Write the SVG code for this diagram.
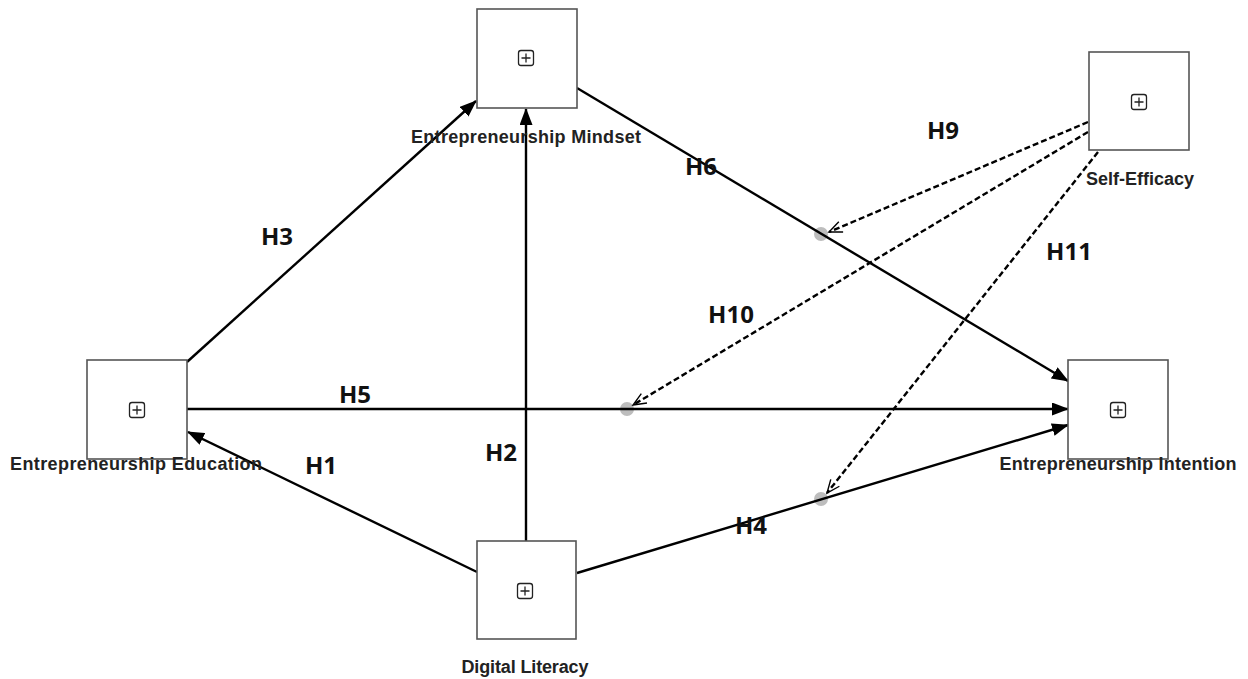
<svg xmlns="http://www.w3.org/2000/svg" width="1248" height="679" viewBox="0 0 1248 679">
<defs>
<style>
.box{fill:#fff;stroke:#555;stroke-width:1.6}
.icon{fill:none;stroke:#222;stroke-width:1.3}
.lbl{font-family:"Liberation Sans",Arial,sans-serif;font-weight:bold;font-size:18px;fill:#222;text-anchor:middle}
.hyp{font-family:"Open Sans","Liberation Sans",sans-serif;font-weight:bold;font-size:24px;fill:#111;text-anchor:middle}
.solid{fill:none;stroke:#000;stroke-width:2.4;marker-end:url(#ah)}
.dash{fill:none;stroke:#000;stroke-width:2.4;stroke-dasharray:6,3;marker-end:url(#oh)}
.dot{fill:#bdbdbd}
</style>
<marker id="ah" markerUnits="userSpaceOnUse" markerWidth="17" markerHeight="13" refX="16" refY="6.5" orient="auto" viewBox="0 0 17 13">
<path d="M0,0 L17,6.5 L0,13 Z" fill="#000"/>
</marker>
<marker id="oh" markerUnits="userSpaceOnUse" markerWidth="16" markerHeight="14" refX="14" refY="7" orient="auto" viewBox="0 0 16 14">
<path d="M1,1.5 L14,7 L1,12.5" fill="none" stroke="#000" stroke-width="1.4"/>
</marker>
<g id="plus">
<rect x="-7.5" y="-7.5" width="15" height="15" rx="2.5" class="icon"/>
<path d="M-4.5,0 H4.5 M0,-4.5 V4.5" class="icon"/>
</g>
</defs>
<rect width="1248" height="679" fill="#fff"/>

<g id="connectors">
<circle class="dot" cx="821" cy="234" r="7"/>
<circle class="dot" cx="627" cy="409" r="7"/>
<circle class="dot" cx="821" cy="499" r="7"/>
<path id="c-h3" class="solid" d="M187,362 L476,101"/>
<path id="c-h2" class="solid" d="M526,541 L526,109"/>
<path id="c-h6" class="solid" d="M577,88 L1068,381"/>
<path id="c-h5" class="solid" d="M187,409 L1068,409"/>
<path id="c-h1" class="solid" d="M477,572 L188,432"/>
<path id="c-h4" class="solid" d="M577,573 L1068,425"/>
<path id="c-h9" class="dash" d="M1088,122 L829,232"/>
<path id="c-h10" class="dash" d="M1088,132 L633,405"/>
<path id="c-h11" class="dash" d="M1098,152 L827,493"/>
</g>

<g id="hyp-labels">
<text class="hyp" x="277" y="245">H3</text>
<text class="hyp" x="501" y="461">H2</text>
<text class="hyp" x="701" y="175">H6</text>
<text class="hyp" x="943" y="139">H9</text>
<text class="hyp" x="1069" y="260">H11</text>
<text class="hyp" x="731" y="323">H10</text>
<text class="hyp" x="355" y="403">H5</text>
<text class="hyp" x="321" y="474">H1</text>
<text class="hyp" x="751" y="534">H4</text>
</g>

<g id="node-mindset">
<rect class="box" x="477" y="9" width="100" height="99"/>
<use href="#plus" x="526" y="58"/>
<text class="lbl" x="526" y="143" textLength="230">Entrepreneurship Mindset</text>
</g>
<g id="node-selfefficacy">
<rect class="box" x="1089" y="52" width="100" height="98"/>
<use href="#plus" x="1139" y="102"/>
<text class="lbl" x="1140" y="185" textLength="108">Self-Efficacy</text>
</g>
<g id="node-education">
<rect class="box" x="87" y="360" width="100" height="99"/>
<use href="#plus" x="137" y="410"/>
<text class="lbl" x="136" y="470" textLength="252">Entrepreneurship Education</text>
</g>
<g id="node-digital">
<rect class="box" x="477" y="541" width="99" height="98"/>
<use href="#plus" x="525" y="591"/>
<text class="lbl" x="525" y="673" textLength="127">Digital Literacy</text>
</g>
<g id="node-intention">
<rect class="box" x="1068" y="360" width="100" height="99"/>
<use href="#plus" x="1118" y="410"/>
<text class="lbl" x="1118" y="470" textLength="237">Entrepreneurship Intention</text>
</g>
</svg>
